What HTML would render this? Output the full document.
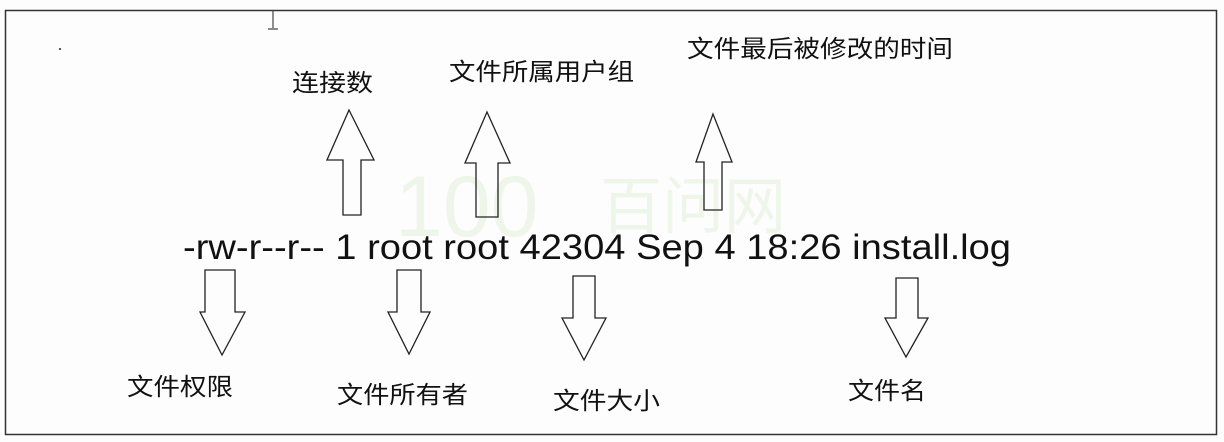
<!DOCTYPE html>
<html><head><meta charset="utf-8"><style>
html,body{margin:0;padding:0;background:#fdfdfd;width:1224px;height:442px;overflow:hidden}
svg{display:block}
text{font-family:"Liberation Sans","Noto Sans CJK SC",sans-serif;fill:#111}
</style></head><body>
<svg width="1224" height="442" viewBox="0 0 1224 442">
<rect x="0" y="0" width="1224" height="442" fill="#fdfdfd"/>
<rect x="5.5" y="10.5" width="1211" height="424" fill="none" stroke="#333" stroke-width="1.5"/>
<path d="M273 10v18M268 29h10" stroke="#444" stroke-width="1.2" fill="none"/>
<rect x="59" y="48" width="2" height="2" fill="#555"/>
<text x="395" y="236" font-size="86" style="fill:#eef6ea">100</text>
<text x="600" y="228" font-size="62" style="fill:#eef6ea" font-family="Noto Serif CJK SC">百问网</text>
<g fill="none" stroke="#222" stroke-width="1.3" stroke-linejoin="miter">
<path d="M349 110L374 160H361V215H343V160H327Z"/>
<path d="M487 112L510 163H498V217H476V163H465Z"/>
<path d="M713 114L732 162H722V210H704V162H696Z"/>
<path d="M205 270H235V312H245L222 355L200 312H205Z"/>
<path d="M397 270H421V312H430L409 354L388 312H397Z"/>
<path d="M573 276H595V318H606L584 360L562 318H573Z"/>
<path d="M896 278H918V318H928L906 357L885 318H896Z"/>
</g>
<text x="183" y="259" font-size="35" textLength="828" lengthAdjust="spacingAndGlyphs">-rw-r--r-- 1 root root 42304 Sep 4 18:26 install.log</text>
<g font-size="24">
<text x="292" y="91" textLength="81" lengthAdjust="spacingAndGlyphs">连接数</text>
<text x="449" y="80" textLength="185" lengthAdjust="spacingAndGlyphs">文件所属用户组</text>
<text x="687" y="57" textLength="266" lengthAdjust="spacingAndGlyphs">文件最后被修改的时间</text>
<text x="127" y="395" textLength="106" lengthAdjust="spacingAndGlyphs">文件权限</text>
<text x="337" y="403" textLength="131" lengthAdjust="spacingAndGlyphs">文件所有者</text>
<text x="553" y="409" textLength="107" lengthAdjust="spacingAndGlyphs">文件大小</text>
<text x="848" y="399" textLength="78" lengthAdjust="spacingAndGlyphs">文件名</text>
</g>
</svg>
</body></html>
